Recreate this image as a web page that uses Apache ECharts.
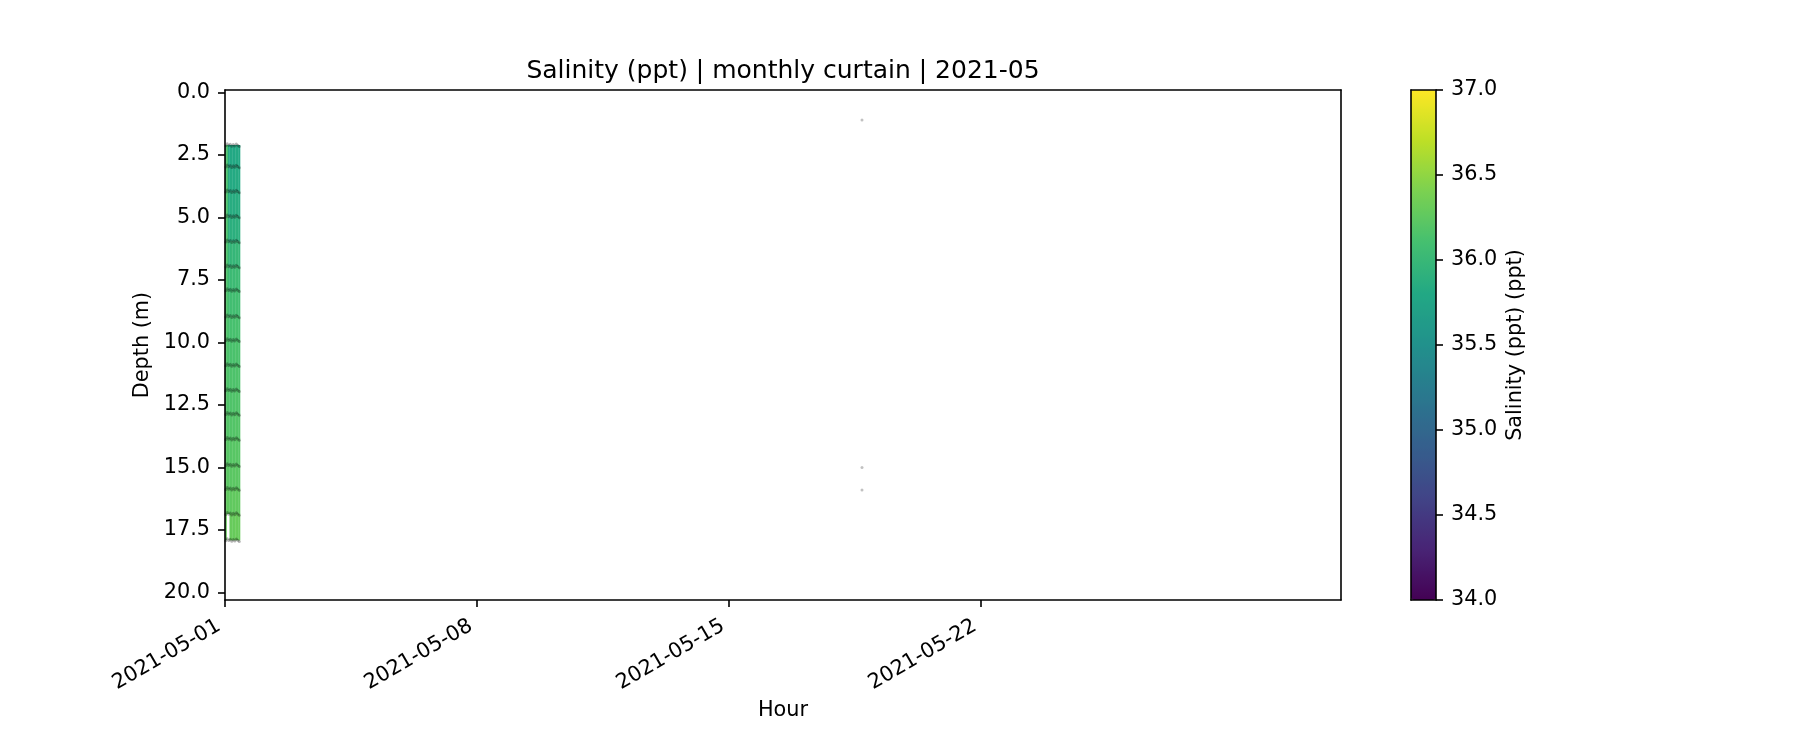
<!DOCTYPE html>
<html>
<head>
<meta charset="utf-8">
<script src="https://cdn.jsdelivr.net/npm/echarts@6/dist/echarts.min.js"></script>
<style>html,body{margin:0;padding:0;background:#fff;}#chart{width:1800px;height:750px;}</style>
</head>
<body>
<div id="chart"></div>
<script>
// ---- data ----
const titleText = 'Salinity (ppt) | monthly curtain | 2021-05';
// hourly cell edges (UTC)
const hourEdges = ['2021-05-01 00:00','2021-05-01 01:00','2021-05-01 02:00','2021-05-01 03:00','2021-05-01 04:00',
  '2021-05-01 05:00','2021-05-01 06:00','2021-05-01 07:00','2021-05-01 08:00','2021-05-01 09:00','2021-05-01 10:00'];
// observation times (centre of each hourly cell)
const obsTimes = ['2021-05-01 00:30','2021-05-01 01:30','2021-05-01 02:30','2021-05-01 03:30','2021-05-01 04:30',
  '2021-05-01 05:30','2021-05-01 06:30','2021-05-01 07:30','2021-05-01 08:30','2021-05-01 09:30'];
// depth levels of the sensors (m)
const depthLevels = [2.1, 2.95, 3.95, 4.95, 5.95, 6.95, 7.9, 8.95, 9.9, 10.9, 11.9, 12.85, 13.85, 14.9, 15.85, 16.85, 17.9];
// small depth wobble of the sensor points per hour (m)
const depthWobble = [0.03, -0.05, 0.02, -0.03, 0.05, -0.02, 0.04, -0.04, 0.01, 0.06];
// salinity per depth cell (rows) and hour (columns), ppt
const salinity = [
  [36.15, 36.12, 35.82, 35.80, 35.81, 35.79, 35.80, 35.82, 35.81, 35.80],
  [36.15, 36.12, 35.84, 35.82, 35.83, 35.81, 35.82, 35.84, 35.83, 35.82],
  [36.16, 36.13, 35.86, 35.85, 35.86, 35.84, 35.85, 35.87, 35.86, 35.85],
  [36.16, 36.13, 35.90, 35.88, 35.90, 35.88, 35.89, 35.91, 35.90, 35.89],
  [36.16, 36.14, 35.98, 35.96, 35.99, 35.97, 35.98, 36.00, 35.99, 35.98],
  [36.16, 36.14, 36.04, 36.02, 36.05, 36.03, 36.04, 36.06, 36.05, 36.04],
  [36.16, 36.15, 36.08, 36.07, 36.09, 36.08, 36.08, 36.10, 36.09, 36.08],
  [36.17, 36.16, 36.12, 36.11, 36.12, 36.11, 36.12, 36.13, 36.12, 36.12],
  [36.17, 36.16, 36.14, 36.13, 36.14, 36.13, 36.14, 36.15, 36.14, 36.14],
  [36.18, 36.17, 36.15, 36.15, 36.16, 36.15, 36.15, 36.16, 36.16, 36.15],
  [36.19, 36.18, 36.17, 36.16, 36.17, 36.16, 36.17, 36.18, 36.17, 36.17],
  [36.20, 36.19, 36.19, 36.18, 36.19, 36.18, 36.19, 36.20, 36.19, 36.19],
  [36.22, 36.21, 36.21, 36.20, 36.21, 36.21, 36.21, 36.22, 36.21, 36.21],
  [36.24, 36.23, 36.23, 36.22, 36.23, 36.23, 36.23, 36.24, 36.23, 36.23],
  [36.27, 36.26, 36.26, 36.25, 36.26, 36.26, 36.26, 36.27, 36.26, 36.26],
  [36.30, null,  null,  36.29, 36.30, 36.29, 36.30, 36.31, 36.30, 36.30]
];
// isolated observations without salinity
const extraTimes = ['2021-05-18 16:40', '2021-05-18 16:40', '2021-05-18 16:40'];
const extraDepths = [1.1, 15.0, 15.9];
// axes
const xRange = ['2021-05-01 00:00', '2021-06-01 00:00'];
const xTickLabels = ['2021-05-01', '2021-05-08', '2021-05-15', '2021-05-22'];
const yTicks = [0, 2.5, 5, 7.5, 10, 12.5, 15, 17.5, 20];
const yRange = [-0.1, 20.3];
const cbarRange = [34, 37];
const cbarTicks = [34, 34.5, 35, 35.5, 36, 36.5, 37];
const viridis = ['#440154','#482475','#414487','#355f8d','#2a788e','#21918c','#22a884','#44bf70','#7ad151','#bddf26','#fde725'];

// ---- helpers ----
function toMs(s) {
  const [d, t] = s.split(' ');
  const [Y, M, D] = d.split('-').map(Number);
  const [h, m] = (t || '00:00').split(':').map(Number);
  return Date.UTC(Y, M - 1, D, h, m);
}
function fmtDate(ms) {
  const d = new Date(ms);
  const p = n => String(n).padStart(2, '0');
  return d.getUTCFullYear() + '-' + p(d.getUTCMonth() + 1) + '-' + p(d.getUTCDate());
}

const cells = [];
for (let r = 0; r < salinity.length; r++) {
  for (let c = 0; c < salinity[r].length; c++) {
    const v = salinity[r][c];
    if (v === null) continue;
    cells.push([toMs(hourEdges[c]), toMs(hourEdges[c + 1]), depthLevels[r], depthLevels[r + 1], v]);
  }
}
const points = [];
for (let r = 0; r < depthLevels.length; r++) {
  for (let c = 0; c < obsTimes.length; c++) {
    points.push([toMs(obsTimes[c]), depthLevels[r] + depthWobble[c]]);
  }
}
const extraPts = extraTimes.map((t, i) => [toMs(t), extraDepths[i]]);

const FONT = 'DejaVu Sans';
const FS = 20.8;
const lineStyle = { color: '#000', width: 1.6 };
const tickStyle = { show: true, inside: false, length: 7, lineStyle: { color: '#000', width: 1.6 } };
const lineOnly = { show: true, onZero: false, lineStyle };

const chart = echarts.init(document.getElementById('chart'), null, { renderer: 'canvas' });
chart.setOption({
  backgroundColor: '#fff',
  animation: false,
  textStyle: { fontFamily: FONT, color: '#000' },
  title: {
    text: titleText, left: 783, top: 56, textAlign: 'center', padding: 0,
    textStyle: { fontFamily: FONT, fontSize: 25, fontWeight: 'normal', color: '#000', lineHeight: 30 }
  },
  grid: [
    { left: 225, right: 459, top: 90, bottom: 150 },
    { left: 1411, top: 90, width: 25, height: 510 }
  ],
  xAxis: [
    {
      gridIndex: 0, type: 'value', position: 'bottom', z: 10,
      min: toMs(xRange[0]), max: toMs(xRange[1]),
      splitLine: { show: false },
      axisLine: lineOnly,
      axisTick: Object.assign({}, tickStyle, { customValues: xTickLabels.map(s => toMs(s)) }),
      axisLabel: {
        customValues: xTickLabels.map(s => toMs(s)),
        formatter: v => fmtDate(v), rotate: 30, margin: 21, padding: [0, 7, 0, 0],
        fontFamily: FONT, fontSize: FS, color: '#000'
      },
      name: 'Hour', nameLocation: 'middle', nameGap: 97,
      nameTextStyle: { fontFamily: FONT, fontSize: FS, color: '#000' }
    },
    {
      gridIndex: 0, type: 'value', position: 'top', z: 10,
      min: toMs(xRange[0]), max: toMs(xRange[1]),
      splitLine: { show: false }, axisTick: { show: false }, axisLabel: { show: false },
      axisLine: lineOnly
    },
    {
      gridIndex: 1, type: 'value', position: 'bottom', z: 10, min: 0, max: 1,
      splitLine: { show: false }, axisTick: { show: false }, axisLabel: { show: false },
      axisLine: lineOnly
    },
    {
      gridIndex: 1, type: 'value', position: 'top', z: 10, min: 0, max: 1,
      splitLine: { show: false }, axisTick: { show: false }, axisLabel: { show: false },
      axisLine: lineOnly
    }
  ],
  yAxis: [
    {
      gridIndex: 0, type: 'value', position: 'left', inverse: true, z: 10,
      min: yRange[0], max: yRange[1],
      splitLine: { show: false },
      axisLine: lineOnly,
      axisTick: Object.assign({}, tickStyle, { customValues: yTicks }),
      axisLabel: {
        customValues: yTicks, formatter: v => Number(v).toFixed(1), margin: 15,
        verticalAlign: 'middle', lineHeight: 20, padding: [6, 0, 0, 0],
        fontFamily: FONT, fontSize: FS, color: '#000'
      },
      name: 'Depth (m)', nameLocation: 'middle', nameGap: 70,
      nameTextStyle: { fontFamily: FONT, fontSize: FS, color: '#000' }
    },
    {
      gridIndex: 0, type: 'value', position: 'right', inverse: true, z: 10,
      min: yRange[0], max: yRange[1],
      splitLine: { show: false }, axisTick: { show: false }, axisLabel: { show: false },
      axisLine: lineOnly
    },
    {
      gridIndex: 1, type: 'value', position: 'left', z: 10, min: cbarRange[0], max: cbarRange[1],
      splitLine: { show: false }, axisTick: { show: false }, axisLabel: { show: false },
      axisLine: lineOnly
    },
    {
      gridIndex: 1, type: 'value', position: 'right', z: 10, min: cbarRange[0], max: cbarRange[1],
      splitLine: { show: false },
      axisLine: lineOnly,
      axisTick: Object.assign({}, tickStyle, { customValues: cbarTicks }),
      axisLabel: {
        customValues: cbarTicks, formatter: v => Number(v).toFixed(1), margin: 15,
        verticalAlign: 'middle', lineHeight: 20, padding: [6, 0, 0, 0],
        fontFamily: FONT, fontSize: FS, color: '#000'
      },
      name: 'Salinity (ppt) (ppt)', nameLocation: 'middle', nameGap: 69,
      nameTextStyle: { fontFamily: FONT, fontSize: FS, color: '#000' }
    }
  ],
  visualMap: {
    type: 'continuous', seriesIndex: 0, dimension: 4,
    min: cbarRange[0], max: cbarRange[1],
    inRange: { color: viridis },
    orient: 'vertical', left: 1411, top: 90, itemWidth: 25, itemHeight: 510,
    padding: 0, calculable: false, text: null, showLabel: false, hoverLink: false
  },
  series: [
    {
      type: 'custom', xAxisIndex: 0, yAxisIndex: 0, clip: true,
      encode: { x: [0, 1], y: [2, 3] },
      data: cells,
      renderItem: function (params, api) {
        const p0 = api.coord([api.value(0), api.value(2)]);
        const p1 = api.coord([api.value(1), api.value(3)]);
        return {
          type: 'rect',
          shape: {
            x: Math.min(p0[0], p1[0]), y: Math.min(p0[1], p1[1]),
            width: Math.abs(p1[0] - p0[0]) + 0.3, height: Math.abs(p1[1] - p0[1]) + 0.3
          },
          style: { fill: api.visual('color') }
        };
      }
    },
    {
      type: 'scatter', xAxisIndex: 0, yAxisIndex: 0, data: points,
      symbol: 'circle', symbolSize: 3,
      itemStyle: { color: 'rgba(0,0,0,0.36)' }, z: 3
    },
    {
      type: 'scatter', xAxisIndex: 0, yAxisIndex: 0, data: extraPts,
      symbol: 'circle', symbolSize: 3,
      itemStyle: { color: 'rgba(0,0,0,0.3)' }, z: 3
    }
  ]
});
</script>
</body>
</html>
